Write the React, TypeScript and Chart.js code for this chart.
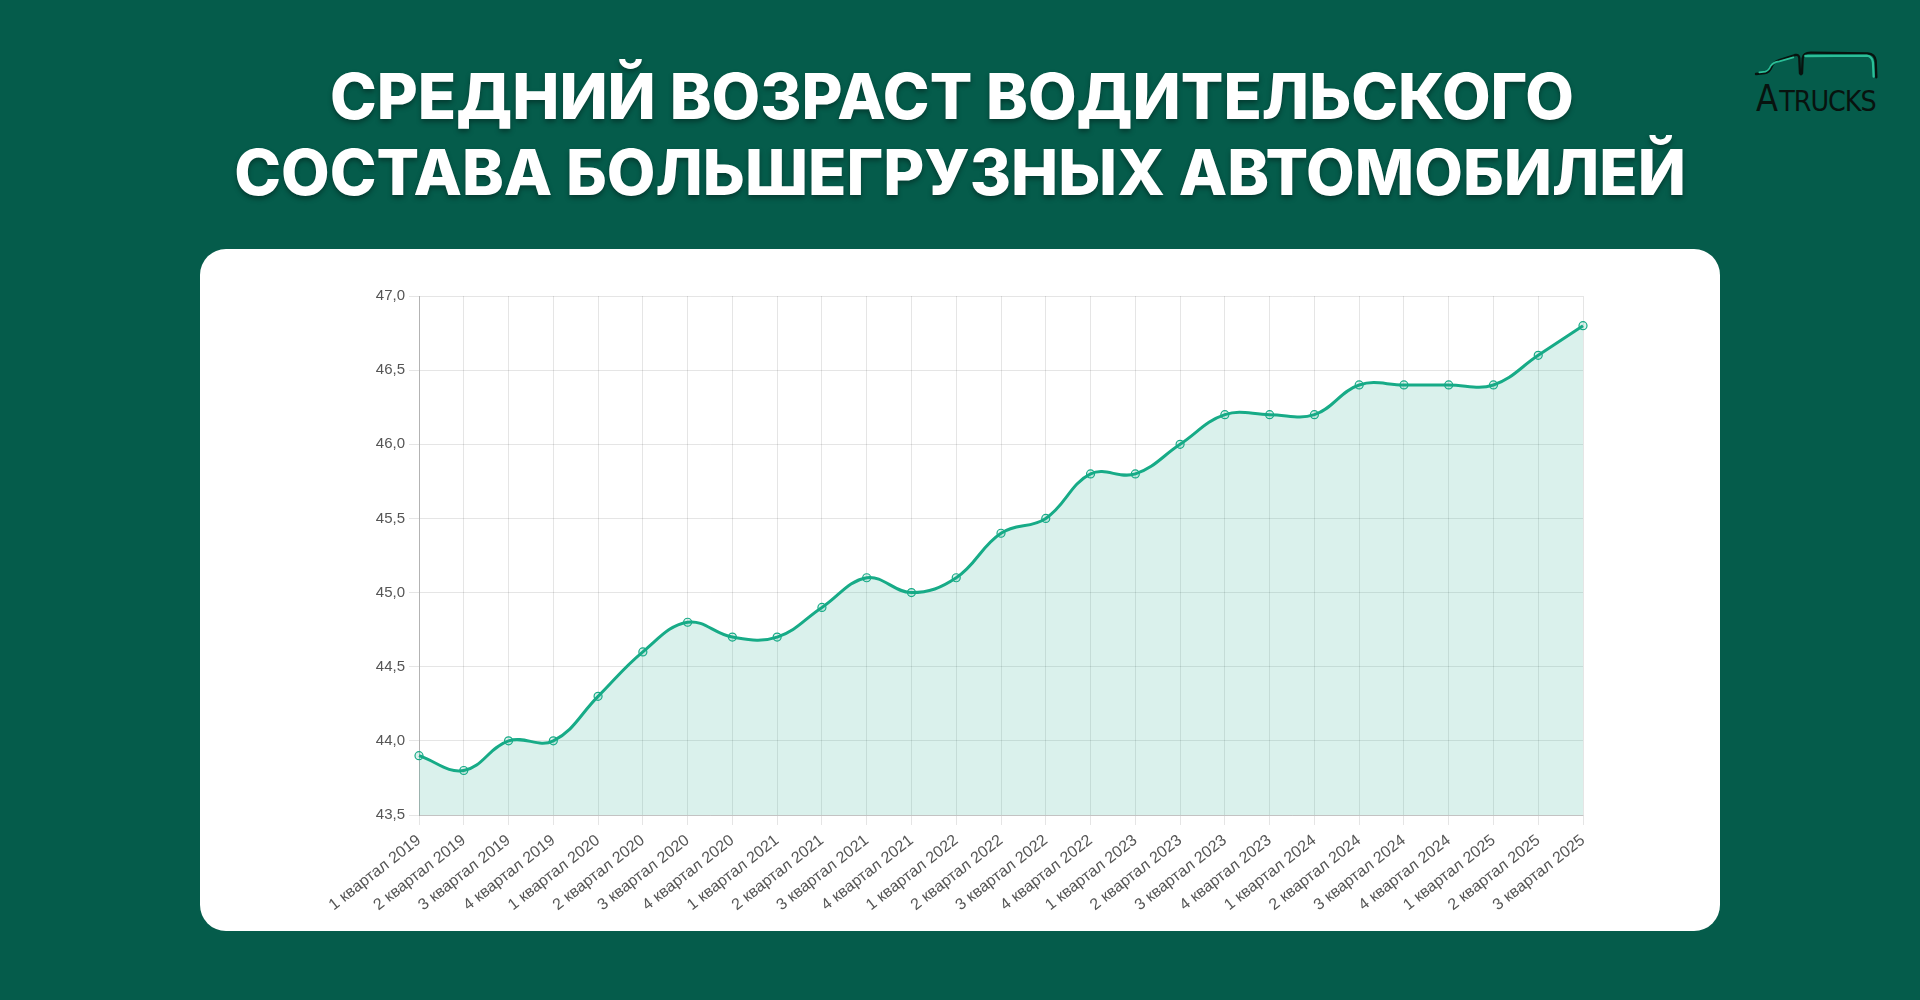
import React, { useEffect, useRef } from "react";
import { Chart, registerables } from "chart.js";

Chart.register(...registerables);

const titleLines = ["СРЕДНИЙ ВОЗРАСТ ВОДИТЕЛЬСКОГО", "СОСТАВА БОЛЬШЕГРУЗНЫХ АВТОМОБИЛЕЙ"];

const quarterLabels = [
  "1 квартал 2019", "2 квартал 2019", "3 квартал 2019", "4 квартал 2019",
  "1 квартал 2020", "2 квартал 2020", "3 квартал 2020", "4 квартал 2020",
  "1 квартал 2021", "2 квартал 2021", "3 квартал 2021", "4 квартал 2021",
  "1 квартал 2022", "2 квартал 2022", "3 квартал 2022", "4 квартал 2022",
  "1 квартал 2023", "2 квартал 2023", "3 квартал 2023", "4 квартал 2023",
  "1 квартал 2024", "2 квартал 2024", "3 квартал 2024", "4 квартал 2024",
  "1 квартал 2025", "2 квартал 2025", "3 квартал 2025",
];

const averageAge = [
  43.9, 43.8, 44.0, 44.0,
  44.3, 44.6, 44.8, 44.7,
  44.7, 44.9, 45.1, 45.0,
  45.1, 45.4, 45.5, 45.8,
  45.8, 46.0, 46.2, 46.2,
  46.2, 46.4, 46.4, 46.4,
  46.4, 46.6, 46.8,
];

const yMin = 43.5;
const yMax = 47.0;
const yStep = 0.5;

const BG = "#055c4b";
const LINE = "#17ab87";

function LineChart() {
  const ref = useRef<HTMLCanvasElement>(null);
  useEffect(() => {
    const canvas = ref.current;
    if (!canvas) return;
    const chart = new Chart(canvas, {
      type: "line",
      data: {
        labels: quarterLabels,
        datasets: [
          {
            data: averageAge,
            borderColor: LINE,
            borderWidth: 3,
            backgroundColor: "rgba(23,171,135,0.16)",
            fill: "origin",
            tension: 0.4,
            pointRadius: 4,
            pointBorderWidth: 1.2,
            pointBorderColor: LINE,
            pointBackgroundColor: "rgba(23,171,135,0.15)",
          },
        ],
      },
      options: {
        responsive: false,
        animation: false,
        devicePixelRatio: 1,
        layout: { padding: { left: 159, right: 137, top: 47, bottom: 0 } },
        plugins: { legend: { display: false }, tooltip: { enabled: false } },
        scales: {
          x: {
            grid: { color: "rgba(0,0,0,0.1)", tickLength: 10 },
            border: { color: "rgba(0,0,0,0.15)" },
            ticks: {
              autoSkip: false,
              minRotation: 38,
              maxRotation: 38,
              color: "#555",
              font: { family: "'Liberation Sans', Arial, sans-serif", size: 16 },
              padding: 6,
            },
            afterFit: (s: any) => { s.height = 116; },
          },
          y: {
            min: yMin,
            max: yMax,
            grid: { color: "rgba(0,0,0,0.1)", tickLength: 10 },
            border: { color: "rgba(0,0,0,0.22)" },
            ticks: {
              stepSize: yStep,
              color: "#555",
              padding: 4,
              font: { family: "'Liberation Sans', Arial, sans-serif", size: 15 },
              callback: (v: any) => Number(v).toFixed(1).replace(".", ","),
            },
            afterFit: (s: any) => { s.width = 60; },
          },
        },
      },
    });
    return () => chart.destroy();
  }, []);
  return <canvas ref={ref} width={1520} height={682} style={{ width: 1520, height: 682, display: "block" }} />;
}

function Logo() {
  const font = "'DejaVu Sans Condensed', 'Liberation Sans Narrow', sans-serif";
  const ink = "#08130f";
  return (
    <svg width={150} height={80} viewBox="0 0 450 240" style={{ position: "absolute", left: 1740, top: 40 }}>
      <path
        d="M48 102 L75 99 Q88 97 94 82 Q100 66 118 60 L165 45 Q177 42 178 55 L180 100 Q183 106 186 100 L188 55 Q190 38 212 38 L383 40 Q405 42 407 62 L409 112"
        fill="none" stroke={ink} strokeWidth={7} strokeLinejoin="round" strokeLinecap="round"
      />
      <path
        d="M58 97 L76 95 Q86 92 92 78 Q100 66 118 64 L160 52"
        fill="none" stroke="#2bbf98" strokeWidth={5} strokeLinecap="round"
      />
      <path
        d="M196 48 L380 47 Q397 49 399 68 L401 110"
        fill="none" stroke="#2bbf98" strokeWidth={7} strokeLinecap="round"
      />
      <text x={48} y={212} fontFamily={font} fontSize={112} fill={ink} textLength={66} lengthAdjust="spacingAndGlyphs">A</text>
      <text x={118} y={212} fontFamily={font} fontSize={85} fill={ink} textLength={292} lengthAdjust="spacing">TRUCKS</text>
    </svg>
  );
}

export default function App() {
  const titleStyle: React.CSSProperties = {
    position: "absolute",
    left: 0,
    width: 1920,
    textAlign: "center",
    color: "#fff",
    fontFamily: "Inter, 'Open Sans', sans-serif",
    fontWeight: 800,
    fontSize: 63,
    lineHeight: "76px",
    whiteSpace: "nowrap",
    textShadow: "0 3px 5px rgba(0,0,0,0.35)",
  };
  return (
    <div style={{ position: "fixed", left: 0, top: 0, width: 1920, height: 1000, background: BG, overflow: "hidden" }}>
      <div style={{ ...titleStyle, top: 58, left: -8 }}>{titleLines[0]}</div>
      <div style={{ ...titleStyle, top: 134 }}>{titleLines[1]}</div>
      <Logo />
      <div style={{ position: "absolute", left: 200, top: 249, width: 1520, height: 682, background: "#fff", borderRadius: 26, overflow: "hidden" }}>
        <LineChart />
      </div>
    </div>
  );
}
